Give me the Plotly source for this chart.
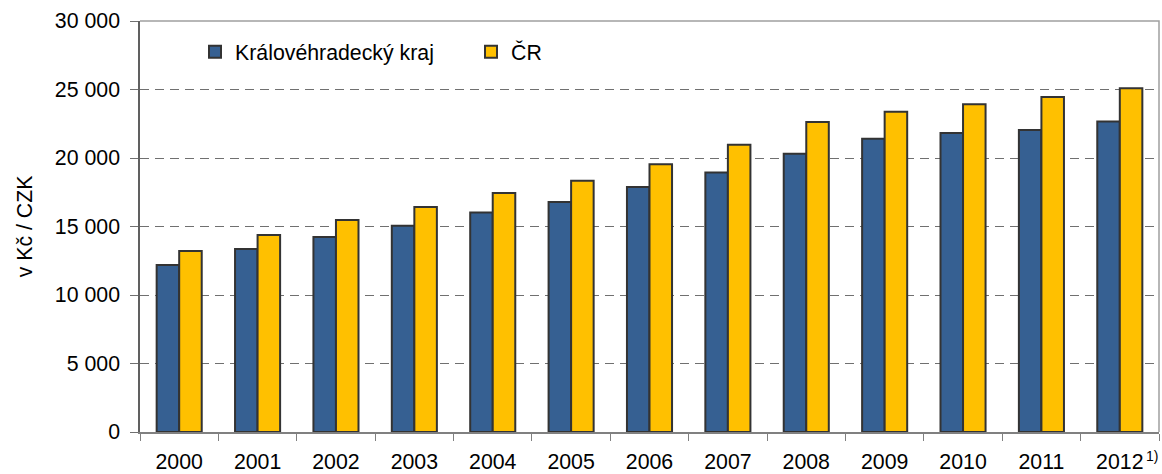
import plotly.graph_objects as go

years = ["2000", "2001", "2002", "2003", "2004", "2005", "2006",
         "2007", "2008", "2009", "2010", "2011", "2012"]
kraj = [12190, 13360, 14230, 15060, 16020, 16790, 17880,
        18950, 20310, 21400, 21820, 22040, 22670]
cr = [13210, 14380, 15470, 16430, 17450, 18340, 19540,
      20960, 22620, 23370, 23930, 24460, 25100]
series_names = ["Královéhradecký kraj", "ČR"]
y_title = "v Kč / CZK"
footnote = "1)"

FONT = "Liberation Sans, Arial, sans-serif"
FS = 21.3

fig = go.Figure()
fig.add_trace(go.Bar(x=years, y=kraj, name=series_names[0],
                     marker=dict(color="#366092", line=dict(color="#333333", width=2))))
fig.add_trace(go.Bar(x=years, y=cr, name=series_names[1],
                     marker=dict(color="#FFC000", line=dict(color="#333333", width=2))))

last_idx = len(years) - 1

fig.update_layout(
    width=1162, height=474,
    margin=dict(l=140, r=3, t=21, b=42),
    paper_bgcolor="white", plot_bgcolor="white",
    separators=", ",
    barmode="group", bargap=0.425, bargroupgap=0,
    font=dict(family=FONT, size=FS, color="black"),
    showlegend=True,
    legend=dict(orientation="h", x=0.054, xanchor="left", y=0.925, yanchor="middle",
                bgcolor="rgba(0,0,0,0)", font=dict(size=FS),
                itemwidth=30, entrywidth=231, traceorder="normal"),
    xaxis=dict(type="category", range=[-0.5, last_idx + 0.5], showgrid=False,
               tickson="boundaries", tickangle=0, automargin=False,
               ticks="outside", ticklen=7, tickcolor="#808080",
               showline=True, linecolor="#808080", linewidth=1.5,
               tickfont=dict(size=FS), ticklabelstandoff=10),
    yaxis=dict(range=[0, 30000], dtick=5000, tickformat=",d", automargin=False,
               showgrid=True, gridcolor="#707070", gridwidth=1, griddash="9px,6px",
               ticks="outside", ticklen=8, tickcolor="#707070",
               showline=True, linecolor="#606060", linewidth=1.5,
               zeroline=False, tickfont=dict(size=FS), ticklabelstandoff=6),
    shapes=[dict(type="path", xref="paper", yref="paper",
                 path="M 0 1 L 1 1 L 1 0", line=dict(color="#a0a0a0", width=1.5),
                 layer="above")],
    annotations=[
        dict(text=y_title, xref="paper", yref="paper", x=-0.113, y=0.5,
             xanchor="center", yanchor="middle", textangle=-90, showarrow=False,
             font=dict(size=FS)),
        dict(text=footnote, xref="paper", yref="paper", x=1.0, y=0, xshift=1, yshift=-24,
             xanchor="right", yanchor="middle", showarrow=False, font=dict(size=14)),
    ],
)

fig.write_html("out.html", config={"displayModeBar": False},
               post_script="document.body.style.margin='0';document.body.style.overflow='hidden';")
